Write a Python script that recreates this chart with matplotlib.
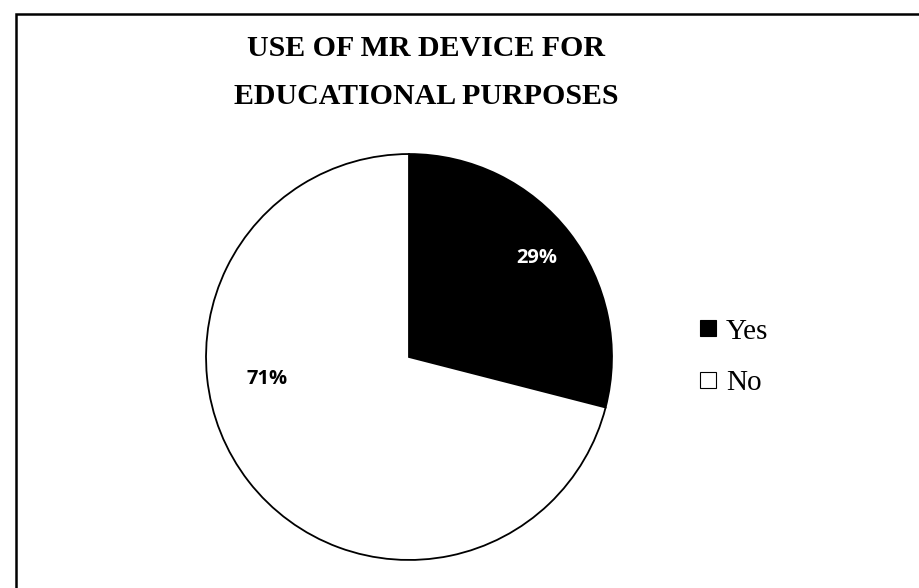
import matplotlib.pyplot as plt
from matplotlib.lines import Line2D
from matplotlib.patches import Rectangle

# datos del grafico
labels = ['Yes', 'No']
values = [29, 71]
colors = ['black', 'white']
title_lines = ['USE OF MR DEVICE FOR', 'EDUCATIONAL PURPOSES']

W, H = 919, 588
fig = plt.figure(figsize=(W/100, H/100), dpi=100)

# marco exterior (cortado a la derecha y abajo)
fig.patches.append(Rectangle((16/W, -0.1), 1.2, (H-14)/H + 0.1, transform=fig.transFigure,
                             fill=False, edgecolor='black', linewidth=1.8))

# pie centrado en (409, 357) px con radio 205 px
cx, cy, r = 409, 357, 205
ax = fig.add_axes([(cx-r)/W, (H-cy-r)/H, 2*r/W, 2*r/H])
wedges, texts, autotexts = ax.pie(values, colors=colors, startangle=90, counterclock=False,
                                  autopct='%1.0f%%', pctdistance=0.795,
                                  wedgeprops=dict(edgecolor='black', linewidth=1.3))
ax.set_xlim(-1.01, 1.01)
ax.set_ylim(-1.01, 1.01)
ax.set_aspect('equal')
for t, c in zip(autotexts, ['white', 'black']):
    t.set_color(c)
    t.set_fontfamily('Open Sans')
    t.set_fontweight('bold')
    t.set_fontsize(14.5)
# la etiqueta del 71% esta mas arriba en el original
autotexts[1].set_position((-0.70, -0.11))

# titulo, dos lineas
for line, y in zip(title_lines, [48, 97]):
    fig.text(426/W, 1 - y/H, line, ha='center', va='center', fontsize=21.5,
             fontfamily='Liberation Serif', fontweight='bold')

handles = [Line2D([], [], marker='s', linestyle='none', markersize=11,
                  markerfacecolor=c, markeredgecolor='black', markeredgewidth=0.8)
           for c in colors]
fig.legend(handles, labels, loc='center left', bbox_to_anchor=(685/W, 1 - 357/H),
           frameon=False, prop={'family': 'Liberation Serif', 'size': 21},
           handlelength=0.6, handletextpad=0.3, labelspacing=0.85, borderpad=0)

fig.savefig('out.png', dpi=100, facecolor='white')
